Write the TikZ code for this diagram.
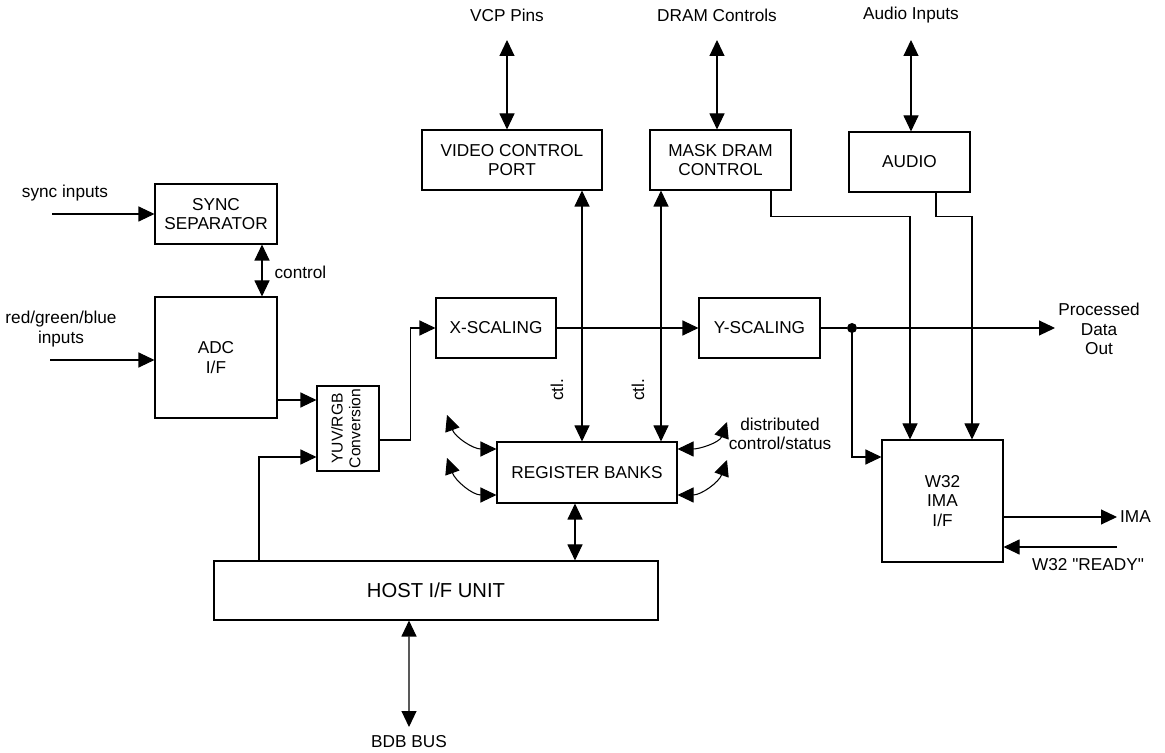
\documentclass[tikz,border=0pt]{standalone}
\usepackage{fontspec}
\setmainfont{Liberation Sans}
\usetikzlibrary{positioning,arrows.meta}

\begin{document}
\begin{tikzpicture}[
    block/.style={rectangle, draw, line width=0.6pt, align=center, inner sep=0pt, font=\fontsize{9.8}{11}\selectfont},
    lbl/.style={align=center, inner sep=1pt, font=\fontsize{9.8}{11}\selectfont},
    arrow/.style={-{Triangle[length=0.32cm,width=0.3cm]}, line width=0.6pt},
    dblarrow/.style={{Triangle[length=0.32cm,width=0.3cm]}-{Triangle[length=0.32cm,width=0.3cm]}, line width=0.6pt},
    wire/.style={line width=0.6pt}
]
\useasboundingbox (0,0) rectangle (23.3,15.04);

% Blocks
\node[block, minimum width=2.44cm, minimum height=1.2cm] (sync) at (4.32,10.76) {SYNC\\SEPARATOR};
\node[block, minimum width=2.44cm, minimum height=2.42cm] (adc) at (4.32,7.89) {ADC\\I/F};
\node[block, minimum width=1.24cm, minimum height=1.7cm, font=\fontsize{8.9}{10}\selectfont] (yuv) at (6.96,6.47) {\rotatebox{90}{\begin{tabular}{@{}c@{}}YUV/RGB\\Conversion\end{tabular}}};
\node[block, minimum width=2.4cm, minimum height=1.2cm] (xscale) at (9.92,8.48) {X-SCALING};
\node[block, minimum width=2.42cm, minimum height=1.2cm] (yscale) at (15.19,8.48) {Y-SCALING};
\node[block, minimum width=3.6cm, minimum height=1.2cm] (vcp) at (10.24,11.84) {VIDEO CONTROL\\PORT};
\node[block, minimum width=2.82cm, minimum height=1.2cm] (mdram) at (14.41,11.84) {MASK DRAM\\CONTROL};
\node[block, minimum width=2.42cm, minimum height=1.2cm] (audio) at (18.19,11.8) {AUDIO};
\node[block, minimum width=3.6cm, minimum height=1.22cm] (regs) at (11.74,5.59) {REGISTER BANKS};
\node[block, minimum width=8.88cm, minimum height=1.18cm, font=\fontsize{11.5}{13}\selectfont] (host) at (8.72,3.23) {HOST I/F UNIT};
\node[block, minimum width=2.42cm, minimum height=2.44cm] (w32) at (18.85,5.02) {W32\\IMA\\I/F};
\node[circle, fill, inner sep=0pt, minimum size=0.2cm] (tap) at (17.04,8.48) {};

% Outside labels
\node[lbl] (syncinlbl) at (1.3,11.18) {sync inputs};
\node[lbl] (rgbinlbl) at (1.22,8.46) {red/green/blue\\inputs};
\node[lbl, anchor=west] (ctllbl) at (5.45,9.6) {control};
\node[lbl] (vcppins) at (10.14,14.74) {VCP Pins};
\node[lbl] (dramctl) at (14.34,14.74) {DRAM Controls};
\node[lbl] (audioin) at (18.22,14.74) {Audio Inputs};
\node[lbl, rotate=90] (ctla) at (11.14,7.24) {ctl.};
\node[lbl, rotate=90] (ctlb) at (12.76,7.24) {ctl.};
\node[lbl] (distlbl) at (15.6,6.36) {distributed\\control/status};
\node[lbl] (pdlbl) at (21.98,8.46) {Processed\\Data\\Out};
\node[lbl, anchor=west] (imalbl) at (22.36,4.7) {IMA};
\node[lbl] (rdylbl) at (21.76,3.74) {W32 \textquotedbl READY\textquotedbl};
\node[lbl] (bdblbl) at (8.18,0.2) {BDB BUS};

% Free ends
\coordinate (syncin) at (1.04,10.76);
\coordinate (rgbin) at (1.0,7.84);
\coordinate (vcptop) at (10.14,14.24);
\coordinate (dramtop) at (14.34,14.24);
\coordinate (audiotop) at (18.22,14.24);
\coordinate (pdout) at (21.1,8.48);
\coordinate (imaout) at (22.34,4.7);
\coordinate (rdyin) at (22.34,4.1);
\coordinate (bdbend) at (8.18,0.5);
\coordinate (cl1) at (8.94,6.74);
\coordinate (cl2) at (8.94,5.88);
\coordinate (cr1) at (14.54,6.6);
\coordinate (cr2) at (14.54,5.84);

% Input side
\draw[arrow] (syncin) -- (sync);
\draw[dblarrow] ([xshift=0.92cm]sync.south) -- ([xshift=0.92cm]adc.north);
\draw[arrow] (rgbin) -- (adc.west |- rgbin);
\draw[arrow] ([yshift=-0.85cm]adc.east) -- ([yshift=-0.85cm]adc.east -| yuv.west);
\draw[arrow] ([xshift=-3.54cm]host.north) |- ([yshift=-0.57cm]yuv.west);
\draw[arrow] ([yshift=-0.23cm]yuv.east) -- ++(0.62,0) |- (xscale.west);

% Data path
\draw[arrow] (xscale) -- (yscale);
\draw[wire] (yscale) -- (tap);
\draw[arrow] (tap) -- (pdout);
\draw[arrow] (tap.center) |- ([yshift=0.88cm]w32.west);

% Top ports
\draw[dblarrow] (vcptop) -- (vcp.north -| vcptop);
\draw[dblarrow] (dramtop) -- (mdram.north -| dramtop);
\draw[dblarrow] (audiotop) -- (audio.north -| audiotop);
\draw[dblarrow] ([xshift=-0.1cm]regs.north) -- ([xshift=-0.1cm]regs.north |- vcp.south);
\draw[dblarrow] ([xshift=1.48cm]regs.north) -- ([xshift=1.48cm]regs.north |- mdram.south);
\draw[arrow] ([xshift=1.01cm]mdram.south) -- ++(0,-0.52) -| ([xshift=-0.65cm]w32.north);
\draw[arrow] ([xshift=0.53cm]audio.south) -- ++(0,-0.48) -| ([xshift=0.59cm]w32.north);

% Register banks
\draw[dblarrow] (cl1) to[out=-70,in=180] ([yshift=0.47cm]regs.west);
\draw[dblarrow] (cl2) to[out=-70,in=180] ([yshift=-0.45cm]regs.west);
\draw[dblarrow] (cr1) to[out=-110,in=0] ([yshift=0.47cm]regs.east);
\draw[dblarrow] (cr2) to[out=-110,in=0] ([yshift=-0.45cm]regs.east);
\draw[dblarrow] ([xshift=-0.24cm]regs.south) -- ([xshift=-0.24cm]regs.south |- host.north);
\draw[dblarrow] ([xshift=-0.54cm]host.south) -- (bdbend);

% W32 side
\draw[arrow] ([yshift=-0.32cm]w32.east) -- (imaout);
\draw[arrow] (rdyin) -- (rdyin -| w32.east);

\end{tikzpicture}
\end{document}
